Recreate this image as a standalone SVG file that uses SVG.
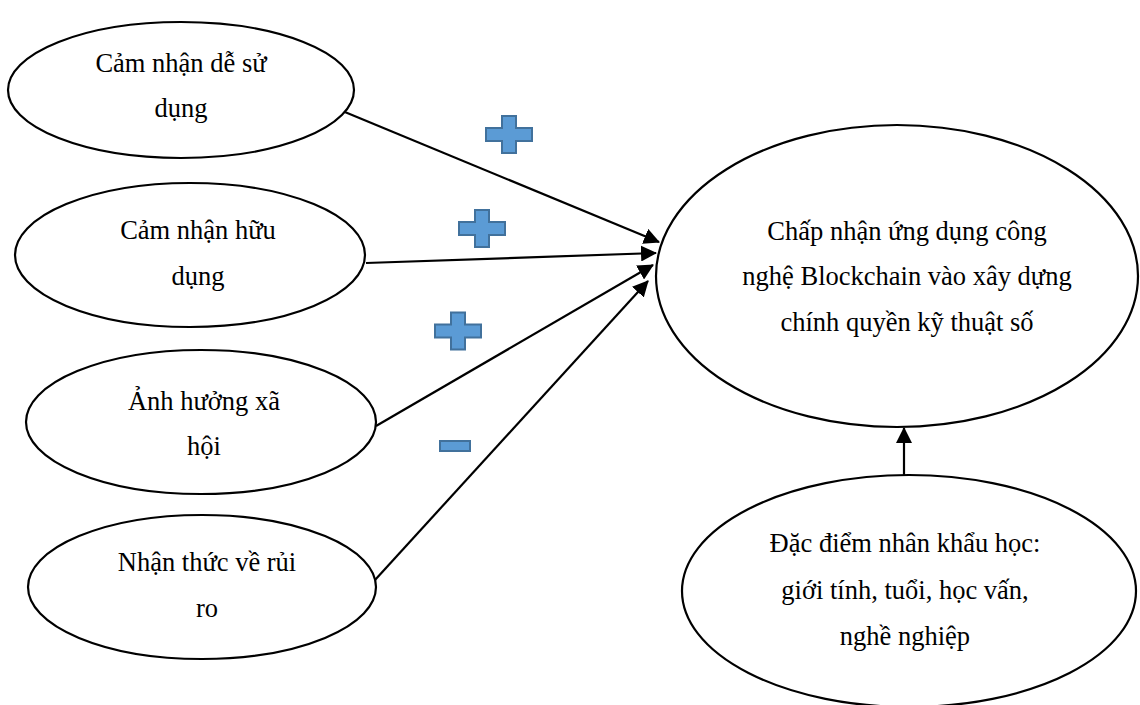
<svg xmlns="http://www.w3.org/2000/svg" width="1140" height="705" viewBox="0 0 1140 705">
  <style>
    .node ellipse { fill: #ffffff; stroke: #000000; stroke-width: 2.2; }
    .node text { font-family: "Liberation Serif", "DejaVu Serif", serif; font-size: 26.5px; fill: #000000; text-anchor: middle; }
    .edge { stroke: #000000; stroke-width: 2.2; fill: none; marker-end: url(#arrow); }
    .sign { fill: #5B9BD5; stroke: #41719C; stroke-width: 2; }
  </style>
  <defs>
    <marker id="arrow" markerUnits="userSpaceOnUse" markerWidth="16" markerHeight="16" refX="15" refY="8" orient="auto">
      <path d="M0,0 L16,8 L0,16 Z" fill="#000000"/>
    </marker>
    <path id="plus" d="M-7,-18.5 H7 V-6.5 H23 V6.5 H7 V18.5 H-7 V6.5 H-23 V-6.5 H-7 Z"/>
  </defs>

  <rect width="1140" height="705" fill="#ffffff"/>

  <!-- connectors -->
  <g id="connectors">
    <line class="edge" x1="340" y1="110" x2="659" y2="242"/>
    <line class="edge" x1="366" y1="263" x2="656" y2="253"/>
    <line class="edge" x1="376" y1="426" x2="653" y2="265"/>
    <line class="edge" x1="375" y1="580" x2="648" y2="281"/>
    <line class="edge" x1="904" y1="477" x2="904" y2="428"/>
  </g>

  <!-- relationship signs -->
  <g id="signs">
    <use href="#plus" class="sign" x="509" y="134.5"/>
    <use href="#plus" class="sign" x="482" y="228.5"/>
    <use href="#plus" class="sign" x="458" y="331"/>
    <rect class="sign" x="440" y="441" width="30" height="10"/>
  </g>

  <g id="n-ease" class="node">
    <ellipse cx="181" cy="90" rx="173" ry="68"/>
    <text x="181" y="72">Cảm nhận dễ sử</text>
    <text x="181" y="117">dụng</text>
  </g>

  <g id="n-useful" class="node">
    <ellipse cx="190" cy="255" rx="175" ry="72"/>
    <text x="198" y="239">Cảm nhận hữu</text>
    <text x="198" y="285">dụng</text>
  </g>

  <g id="n-social" class="node">
    <ellipse cx="201" cy="422" rx="175" ry="72"/>
    <text x="204" y="410">Ảnh hưởng xã</text>
    <text x="204" y="455">hội</text>
  </g>

  <g id="n-risk" class="node">
    <ellipse cx="202" cy="587" rx="174" ry="72"/>
    <text x="207" y="571">Nhận thức về rủi</text>
    <text x="207" y="617">ro</text>
  </g>

  <g id="n-adoption" class="node">
    <ellipse cx="897" cy="276" rx="241" ry="151"/>
    <text x="907" y="240">Chấp nhận ứng dụng công</text>
    <text x="907" y="285">nghệ Blockchain vào xây dựng</text>
    <text x="907" y="331">chính quyền kỹ thuật số</text>
  </g>

  <g id="n-demographics" class="node">
    <ellipse cx="909" cy="591" rx="227" ry="116"/>
    <text x="905" y="552">Đặc điểm nhân khẩu học:</text>
    <text x="905" y="599">giới tính, tuổi, học vấn,</text>
    <text x="905" y="645">nghề nghiệp</text>
  </g>
</svg>
